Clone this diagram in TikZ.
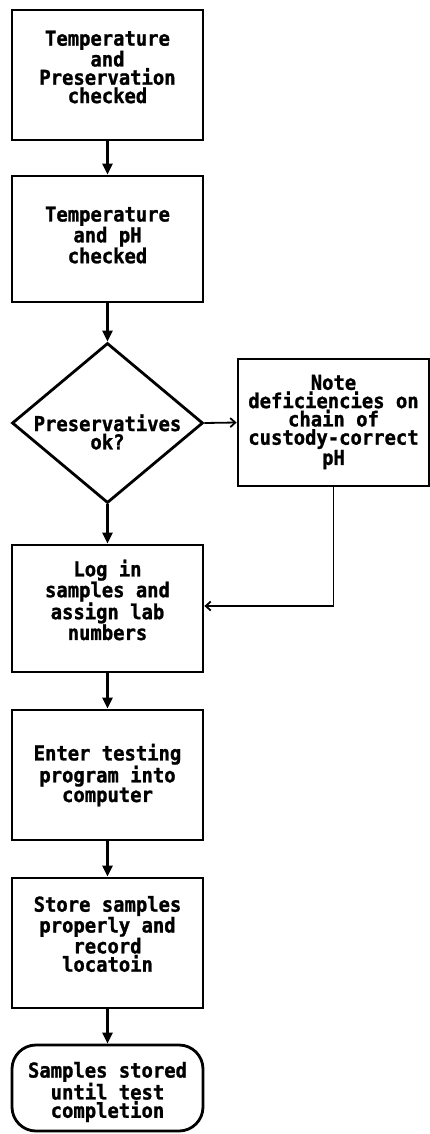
\documentclass[tikz,border=0pt]{standalone}
\usepackage{fontspec}
\newfontfamily\dmono{DejaVu Sans Mono Bold}[FakeStretch=0.92,FakeBold=1.2]
\usetikzlibrary{arrows.meta,shapes.geometric}
\begin{document}
\begin{tikzpicture}[x=1pt,y=-1pt,
  procbox/.style={draw, line width=2.8pt, minimum width=191pt, inner sep=0pt},
  txt/.style={font=\dmono\fontsize{20.5}{18.3}\selectfont, align=center, inner sep=0pt},
  mainarrow/.style={line width=2.8pt, -{Triangle[width=10pt,length=11pt]}},
  sidearrow/.style={line width=1.8pt, -{Straight Barb[length=5pt,width=9pt]}}]
\useasboundingbox (0,0) rectangle (430,1134);
\fill[white] (0,0) rectangle (430,1134);

% shapes
\node[procbox, minimum height=130pt] (box1) at (107.5,75) {};
\node[procbox, minimum height=126pt] (box2) at (107.5,239) {};
\node[diamond, draw, line width=2.8pt, minimum width=191pt, minimum height=160pt, inner sep=0pt] (dia) at (107.5,423) {};
\node[procbox, minimum height=127pt] (note) at (333.5,422.5) {};
\node[procbox, minimum height=127pt] (box3) at (107.5,608.5) {};
\node[procbox, minimum height=130pt] (box4) at (107.5,775) {};
\node[procbox, minimum height=130pt] (box5) at (107.5,943) {};
\node[procbox, rounded corners=24pt, minimum height=86pt] (term) at (107.5,1088) {};

% texts
\node[txt] (t1) at (107.5,67) {Temperature\\and\\Preservation\\checked};
\node[txt] (t2) at (107.5,235) {Temperature\\and pH\\checked};
\node[txt] (td) at (107.5,432) {Preservatives\\ok?};
\node[txt] (tn) at (333.5,422) {Note\\deficiencies on\\chain of\\custody-correct\\pH};
\node[txt] (t3) at (107.5,600) {Log in\\samples and\\assign lab\\numbers};
\node[txt] (t4) at (107.5,775) {Enter testing\\program into\\computer};
\node[txt] (t5) at (107.5,934) {Store samples\\properly and\\record\\locatoin};
\node[txt] (tt) at (107.5,1092) {Samples stored\\until test\\completion};

% connectors
\draw[mainarrow] (box1.south) -- (box2.north);
\draw[mainarrow] (box2.south) -- (dia.north);
\draw[mainarrow] (dia.south) -- (box3.north);
\draw[mainarrow] (box3.south) -- (box4.north);
\draw[mainarrow] (box4.south) -- (box5.north);
\draw[mainarrow] (box5.south) -- (term.north);
\draw[sidearrow] (dia.east) -- (note.west);
\coordinate (bend) at (333.5,606);
\coordinate (entry) at (box3.east |- bend);
\draw[sidearrow] (note.south) -- (bend) -- (entry);
\end{tikzpicture}
\end{document}
